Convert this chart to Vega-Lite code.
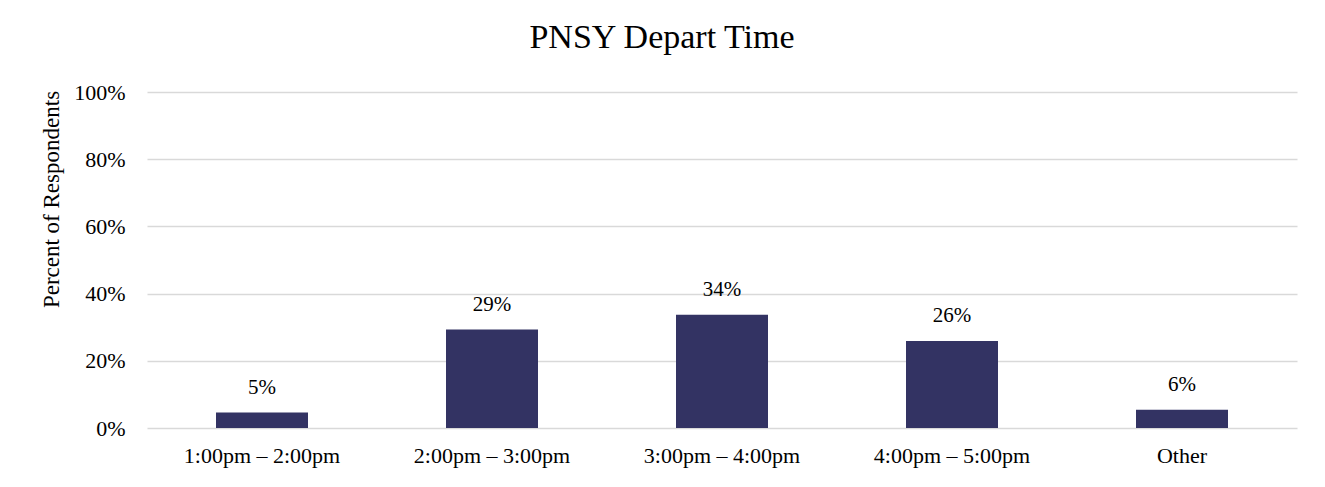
{
  "$schema": "https://vega.github.io/schema/vega-lite/v6.json",
  "autosize": "none",
  "width": 1150,
  "height": 336,
  "padding": {"left": 147, "top": 92, "right": 28, "bottom": 59},
  "background": "white",
  "title": {
    "text": "PNSY Depart Time",
    "font": "Liberation Serif",
    "fontSize": 34,
    "fontWeight": "normal",
    "color": "#000000",
    "anchor": "middle",
    "dx": -60,
    "offset": 26
  },
  "data": {
    "values": [
      {"time": "1:00pm – 2:00pm", "pct": 0.046, "label": "5%"},
      {"time": "2:00pm – 3:00pm", "pct": 0.293, "label": "29%"},
      {"time": "3:00pm – 4:00pm", "pct": 0.337, "label": "34%"},
      {"time": "4:00pm – 5:00pm", "pct": 0.259, "label": "26%"},
      {"time": "Other", "pct": 0.054, "label": "6%"}
    ]
  },
  "encoding": {
    "x": {
      "field": "time",
      "type": "nominal",
      "sort": null,
      "scale": {"paddingInner": 0.6, "paddingOuter": 0.3},
      "axis": {
        "title": null,
        "labelAngle": 0,
        "domain": false,
        "ticks": false,
        "labelFont": "Liberation Serif",
        "labelFontSize": 22,
        "labelColor": "#000000",
        "labelPadding": 17
      }
    },
    "y": {
      "field": "pct",
      "type": "quantitative",
      "scale": {"domain": [0, 1]},
      "axis": {
        "title": "Percent of Respondents",
        "values": [0, 0.2, 0.4, 0.6, 0.8, 1],
        "format": ".0%",
        "domain": false,
        "ticks": false,
        "gridColor": "#d9d9d9",
        "gridWidth": 1.3,
        "labelFont": "Liberation Serif",
        "labelFontSize": 22,
        "labelColor": "#000000",
        "labelPadding": 22,
        "titleFont": "Liberation Serif",
        "titleFontSize": 23,
        "titleFontWeight": "normal",
        "titleColor": "#000000",
        "titleX": -84,
        "titleY": 107,
        "titleAngle": -90
      }
    }
  },
  "layer": [
    {"mark": {"type": "bar", "color": "#333363"}},
    {
      "mark": {"type": "text", "baseline": "bottom", "dy": -15, "font": "Liberation Serif", "fontSize": 21, "color": "#000000"},
      "encoding": {"text": {"field": "label"}}
    }
  ],
  "config": {"view": {"stroke": null}}
}
